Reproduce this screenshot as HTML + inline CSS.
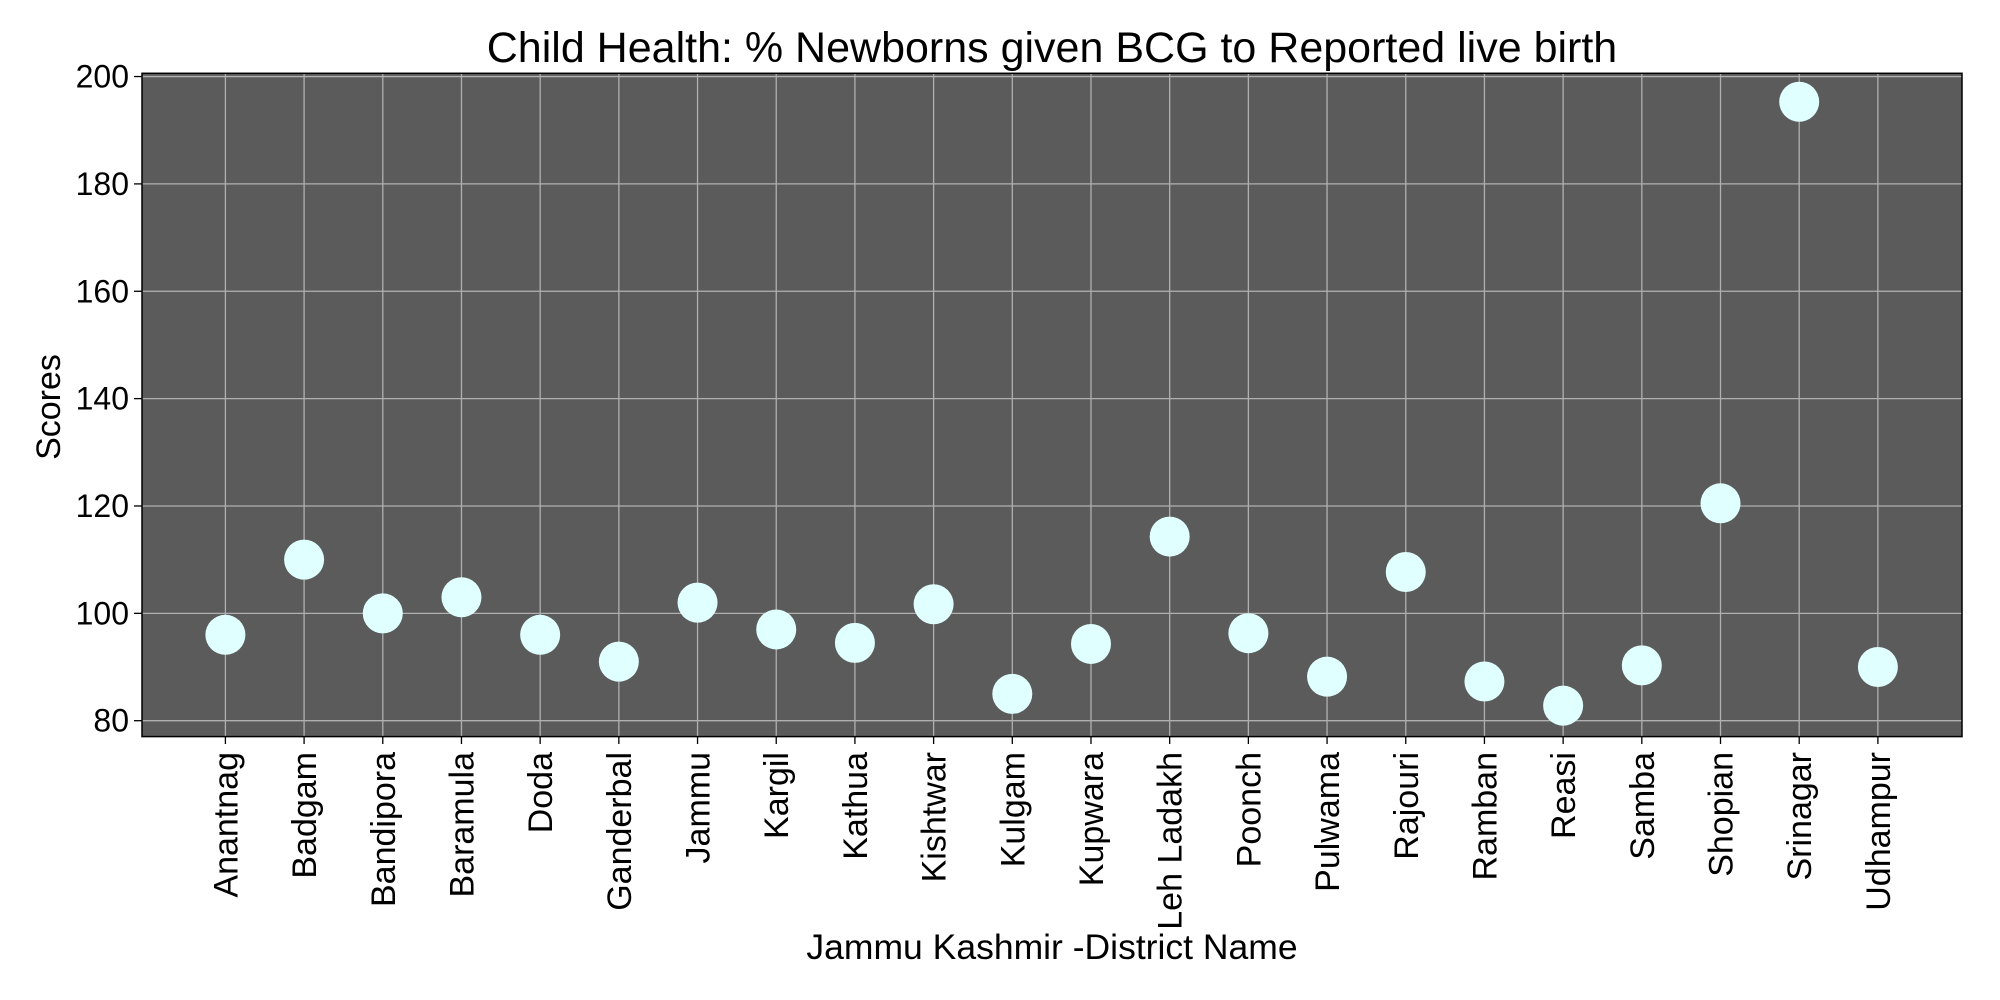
<!DOCTYPE html>
<html><head><meta charset="utf-8"><style>
html,body{margin:0;padding:0;background:#fff;}
svg{display:block;font-family:"Liberation Sans","DejaVu Sans",sans-serif;}
</style></head><body>
<svg id="chart" width="2000" height="1000">
<text x="1052" y="62" font-size="43" text-anchor="middle" fill="#000">Child Health: % Newborns given BCG to Reported live birth</text>
<rect x="142" y="73.3" width="1820" height="663.3" fill="#5b5b5b"/>
<g id="grid"></g><g id="marks"></g>
<rect x="142" y="73.3" width="1820" height="663.3" fill="none" stroke="#000" stroke-width="1.5"/>
<g id="axes"></g>
<text x="1052" y="959" font-size="35.5" text-anchor="middle" fill="#000">Jammu Kashmir -District Name</text>
<text transform="translate(60,407) rotate(-90)" font-size="34" text-anchor="middle" fill="#000">Scores</text>
</svg>
<script>
const categories=["Anantnag","Badgam","Bandipora","Baramula","Doda","Ganderbal","Jammu","Kargil","Kathua","Kishtwar","Kulgam","Kupwara","Leh Ladakh","Poonch","Pulwama","Rajouri","Ramban","Reasi","Samba","Shopian","Srinagar","Udhampur"];
const scores=[96,110,100,103,96,91,102,97,94.5,101.7,85,94.3,114.3,96.3,88.2,107.7,87.3,82.8,90.3,120.5,195.3,90];
const yTicks=[80,100,120,140,160,180,200];
const NS="http://www.w3.org/2000/svg";
function xS(i){return 225.4+i*78.69;}
function yS(v){return 720.7-(v-80)*5.368;}
const grid=document.getElementById('grid'),marks=document.getElementById('marks'),axes=document.getElementById('axes');
function mk(tag,attrs,parent){const e=document.createElementNS(NS,tag);for(const k in attrs)e.setAttribute(k,attrs[k]);parent.appendChild(e);return e;}
yTicks.forEach(t=>{
 const y=yS(t);
 const g=mk('line',{x1:142,x2:1962,y1:y,y2:y,stroke:'#b0b0b0','stroke-width':1.3},grid);
 
 
 const tk=mk('line',{x1:134,x2:142,y1:y,y2:y,stroke:'#000','stroke-width':1.3},axes);
 
 
 const tx=mk('text',{x:129,y:y+11,'font-size':32,'text-anchor':'end',fill:'#000'},axes);
 tx.textContent=t;
 
 
});
categories.forEach((c,i)=>{
 const x=xS(i);
 const g=mk('line',{x1:x,x2:x,y1:73.3,y2:736.6,stroke:'#b0b0b0','stroke-width':1.3},grid);
 
 
 const tk=mk('line',{x1:x,x2:x,y1:736.6,y2:744,stroke:'#000','stroke-width':1.3},axes);
 
 
 const tx=mk('text',{transform:`translate(${x+12},752) rotate(-90)`,'font-size':34,'text-anchor':'end',fill:'#000'},axes);
 tx.textContent=c;
 
 
 const p=mk('circle',{cx:x,cy:yS(scores[i]),r:20,fill:'#e0ffff'},marks);
 
 
});
</script>
</body></html>
